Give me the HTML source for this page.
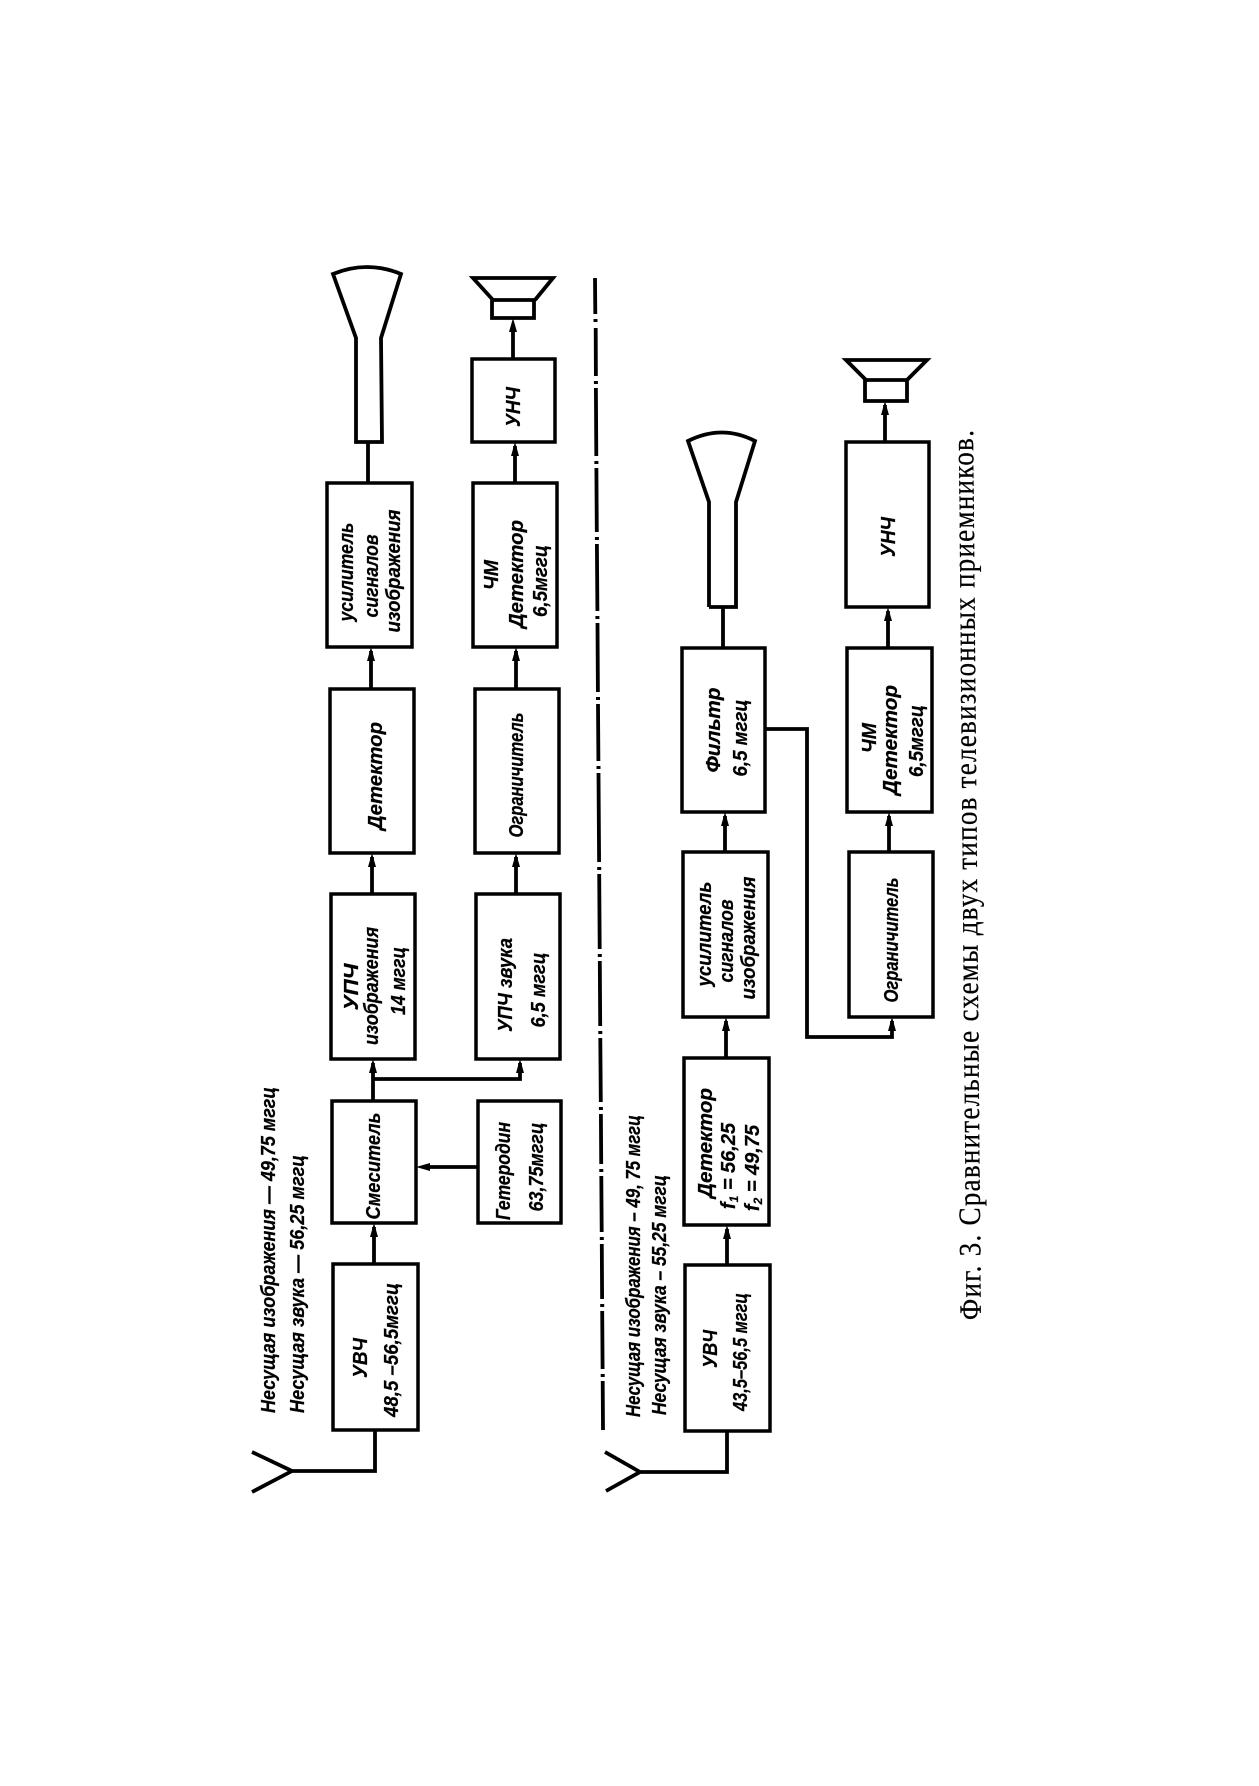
<!DOCTYPE html>
<html lang="ru"><head><meta charset="utf-8"><title>Фиг. 3</title>
<style>html,body{margin:0;padding:0;background:#fff}svg{display:block}
.b{fill:#fff;stroke:#000;stroke-width:3.5}
.l{fill:none;stroke:#000;stroke-width:3.8}
.a{fill:#000;stroke:none}
text{font-family:"Liberation Sans",sans-serif;font-style:italic;font-weight:bold;font-size:20px;fill:#000;text-anchor:middle;stroke:#000;stroke-width:.25}
</style></head><body>
<svg width="1259" height="1786" viewBox="0 0 1259 1786" xmlns="http://www.w3.org/2000/svg">
<rect width="1259" height="1786" fill="#fff"/>

<!-- upper boxes -->
<rect class="b" x="327" y="483" width="85" height="164"/>
<rect class="b" x="330" y="689" width="84" height="164"/>
<rect class="b" x="331" y="894" width="84" height="165"/>
<rect class="b" x="332" y="1101" width="84" height="122"/>
<rect class="b" x="333" y="1264" width="85" height="166"/>
<rect class="b" x="472" y="359" width="83" height="83"/>
<rect class="b" x="473" y="483" width="84" height="164"/>
<rect class="b" x="475" y="689" width="84" height="164"/>
<rect class="b" x="476" y="894" width="84" height="165"/>
<rect class="b" x="478" y="1101" width="83" height="122"/>

<!-- upper CRT, speaker -->
<path class="l" d="M368 442H382L381 338L401 274Q367 260 333 274L356 338L356 442H368M368 442V483"/>
<path class="l" d="M492 300H534V318H492ZM493 300L473 278H553L535 300"/>

<!-- upper connectors -->
<path class="l" d="M513 359V325M515 483V446M516 689V651M371 689V651M372 894V857M516 894V857M373 1101V1063M373 1079H520V1063M478 1167H425M374 1264V1227M375 1430V1471H292M252 1452L292 1471L252 1492"/>
<g class="a">
<polygon points="513,318 509,332 517,332"/><polygon points="515,442 511,456 519,456"/>
<polygon points="516,647 512,661 520,661"/><polygon points="371,647 367,661 375,661"/>
<polygon points="372,853 368,867 376,867"/><polygon points="516,853 512,867 520,867"/>
<polygon points="373,1059 369,1073 377,1073"/><polygon points="520,1059 516,1073 524,1073"/>
<polygon points="416,1167 430,1163 430,1171"/><polygon points="374,1223 370,1237 378,1237"/>
</g>

<!-- dash-dot divider -->
<path stroke="#000" stroke-width="3.8" fill="none" d="M595 278L595.3 314M595.7 328L595.9 376M595.9 388L596.3 456M596.4 468L596.8 532M596.9 544L597.4 611M597.5 623L597.9 692M598 704L598.4 761M598.5 773L599.1 862M599.2 874L599.7 949M599.8 961L600.2 1026M600.3 1038L600.8 1102M600.9 1114L601.2 1164M601.3 1176L601.7 1232M601.8 1244L602.1 1299M602.2 1311L602.6 1369M602.7 1381L603 1430"/>
<path stroke="#000" stroke-width="4" fill="none" d="M595.5 319V322M595.9 381V384M596.4 461V464M596.9 537V540M597.4 616V619M598 697V700M598.5 766V769M599.2 867V870M599.8 954V957M600.3 1031V1034M600.9 1107V1110M601.3 1169V1172M601.8 1237V1240M602.2 1304V1307M602.7 1374V1377"/>

<!-- lower boxes -->
<rect class="b" x="682" y="648" width="83" height="164"/>
<rect class="b" x="683" y="852" width="85" height="165"/>
<rect class="b" x="684" y="1058" width="85" height="167"/>
<rect class="b" x="685" y="1265" width="85" height="166"/>
<rect class="b" x="846" y="442" width="83" height="165"/>
<rect class="b" x="847" y="648" width="85" height="164"/>
<rect class="b" x="849" y="852" width="84" height="165"/>

<!-- lower CRT, speaker -->
<path class="l" d="M709 607H736L736 502L755 441Q722 424 688 441L709 502L709 607M723 607V648"/>
<path class="l" d="M865 380H907V401H865ZM866 380L846 360H927L907 380"/>

<!-- lower connectors -->
<path class="l" d="M885 442V405M888 648V611M725 852V816M889 852V816M726 1058V1021M727 1265V1229M765 729H807V1037H892V1021M727 1431V1472H640M605 1452L640 1472L606 1491"/>
<g class="a">
<polygon points="885,401 881,415 889,415"/><polygon points="888,607 884,621 892,621"/>
<polygon points="725,812 721,826 729,826"/><polygon points="889,812 885,826 893,826"/>
<polygon points="726,1017 722,1031 730,1031"/><polygon points="727,1225 723,1239 731,1239"/>
<polygon points="892,1017 888,1031 896,1031"/>
</g>

<!-- upper labels -->
<text transform="translate(353,572) rotate(-90)" textLength="99" lengthAdjust="spacingAndGlyphs">усилитель</text>
<text transform="translate(378,576) rotate(-90)" textLength="83" lengthAdjust="spacingAndGlyphs">сигналов</text>
<text transform="translate(400,571) rotate(-90)" textLength="123" lengthAdjust="spacingAndGlyphs">изображения</text>
<text transform="translate(498,575) rotate(-90)" textLength="30" lengthAdjust="spacingAndGlyphs">ЧМ</text>
<text transform="translate(523,574) rotate(-90)" textLength="108" lengthAdjust="spacingAndGlyphs">Детектор</text>
<text transform="translate(547,581) rotate(-90)" textLength="72" lengthAdjust="spacingAndGlyphs">6,5мггц</text>
<text transform="translate(520,407) rotate(-90)" textLength="40" lengthAdjust="spacingAndGlyphs">УНЧ</text>
<text transform="translate(382,776) rotate(-90)" textLength="108" lengthAdjust="spacingAndGlyphs">Детектор</text>
<text transform="translate(523,775) rotate(-90)" textLength="125" lengthAdjust="spacingAndGlyphs">Ограничитель</text>
<text transform="translate(358,987) rotate(-90)" textLength="47" lengthAdjust="spacingAndGlyphs">УПЧ</text>
<text transform="translate(378,986) rotate(-90)" textLength="118" lengthAdjust="spacingAndGlyphs">изображения</text>
<text transform="translate(405,981) rotate(-90)" textLength="68" lengthAdjust="spacingAndGlyphs">14 мггц</text>
<text transform="translate(512,985) rotate(-90)" textLength="94" lengthAdjust="spacingAndGlyphs">УПЧ звука</text>
<text transform="translate(545,990) rotate(-90)" textLength="75" lengthAdjust="spacingAndGlyphs">6,5 мггц</text>
<text transform="translate(380,1166) rotate(-90)" textLength="107" lengthAdjust="spacingAndGlyphs">Смеситель</text>
<text transform="translate(510,1171) rotate(-90)" textLength="98" lengthAdjust="spacingAndGlyphs">Гетеродин</text>
<text transform="translate(543,1167) rotate(-90)" textLength="89" lengthAdjust="spacingAndGlyphs">63,75мггц</text>
<text transform="translate(275,1250) rotate(-90)" textLength="326" lengthAdjust="spacingAndGlyphs">Несущая изображения — 49,75 мггц</text>
<text transform="translate(304,1284) rotate(-90)" textLength="258" lengthAdjust="spacingAndGlyphs">Несущая звука — 56,25 мггц</text>
<text transform="translate(367,1358) rotate(-90)" textLength="40" lengthAdjust="spacingAndGlyphs">УВЧ</text>
<text transform="translate(398,1350) rotate(-90)" textLength="134" lengthAdjust="spacingAndGlyphs">48,5 –56,5мггц</text>

<!-- lower labels -->
<text transform="translate(640,1266) rotate(-90)" textLength="302" lengthAdjust="spacingAndGlyphs">Несущая изображения – 49, 75 мггц</text>
<text transform="translate(666,1295) rotate(-90)" textLength="240" lengthAdjust="spacingAndGlyphs">Несущая звука – 55,25 мггц</text>
<text transform="translate(717,1349) rotate(-90)" textLength="38" lengthAdjust="spacingAndGlyphs">УВЧ</text>
<text transform="translate(747,1352) rotate(-90)" textLength="118" lengthAdjust="spacingAndGlyphs">43,5–56,5 мггц</text>
<text transform="translate(712,1143) rotate(-90)" textLength="110" lengthAdjust="spacingAndGlyphs">Детектор</text>
<text transform="translate(735,1166) rotate(-90)">f<tspan dy="3" font-size="12">1</tspan><tspan dy="-3"> = 56,25</tspan></text>
<text transform="translate(759,1168) rotate(-90)">f<tspan dy="3" font-size="12">2</tspan><tspan dy="-3"> = 49,75</tspan></text>
<text transform="translate(711,934) rotate(-90)" textLength="105" lengthAdjust="spacingAndGlyphs">усилитель</text>
<text transform="translate(733,941) rotate(-90)" textLength="83" lengthAdjust="spacingAndGlyphs">сигналов</text>
<text transform="translate(755,938) rotate(-90)" textLength="123" lengthAdjust="spacingAndGlyphs">изображения</text>
<text transform="translate(898,940) rotate(-90)" textLength="125" lengthAdjust="spacingAndGlyphs">Ограничитель</text>
<text transform="translate(720,730) rotate(-90)" textLength="85" lengthAdjust="spacingAndGlyphs">Фильтр</text>
<text transform="translate(747,738) rotate(-90)" textLength="77" lengthAdjust="spacingAndGlyphs">6,5 мггц</text>
<text transform="translate(876,738) rotate(-90)" textLength="30" lengthAdjust="spacingAndGlyphs">ЧМ</text>
<text transform="translate(897,740) rotate(-90)" textLength="110" lengthAdjust="spacingAndGlyphs">Детектор</text>
<text transform="translate(923,741) rotate(-90)" textLength="72" lengthAdjust="spacingAndGlyphs">6,5мггц</text>
<text transform="translate(895,537) rotate(-90)" textLength="40" lengthAdjust="spacingAndGlyphs">УНЧ</text>

<!-- caption -->
<text transform="translate(977,875) rotate(-90.5) scale(1,1.15)" textLength="890" lengthAdjust="spacing" style="font-family:'Liberation Serif',serif;font-style:normal;font-weight:normal;font-size:27px;stroke-width:.2">Фиг. 3. Сравнительные схемы двух типов телевизионных приемников.</text>
</svg>
</body></html>
